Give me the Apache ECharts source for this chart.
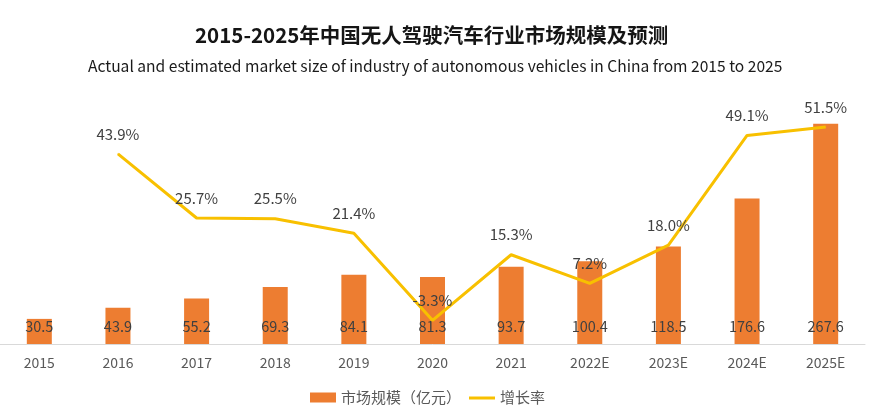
<!DOCTYPE html>
<html>
<head>
<meta charset="utf-8">
<script src="https://cdn.jsdelivr.net/npm/echarts@6/dist/echarts.min.js"></script>
<style>
html,body{margin:0;padding:0;background:#fff;}
#c{width:886px;height:416px;}
</style>
</head>
<body>
<div id="c"></div>
<script>
var categories = ['2015','2016','2017','2018','2019','2020','2021','2022E','2023E','2024E','2025E'];
var marketSize = [30.5, 43.9, 55.2, 69.3, 84.1, 81.3, 93.7, 100.4, 118.5, 176.6, 267.6];
var growthRate = [null, 43.9, 25.7, 25.5, 21.4, -3.3, 15.3, 7.2, 18.0, 49.1, 51.5];
var titleText = '2015-2025年中国无人驾驶汽车行业市场规模及预测';
var subtitleText = 'Actual and estimated market size of industry of autonomous vehicles in China from 2015 to 2025';
var barName = '市场规模（亿元）';
var lineName = '增长率';

var font = '"Noto Sans CJK SC", "Noto Sans", sans-serif';
var lineColor = '#F8C000';
var chart = echarts.init(document.getElementById('c'));
chart.setOption({
  backgroundColor: '#ffffff',
  animation: false,
  title: [
    {
      text: titleText,
      left: 190,
      top: 20,
      textStyle: {fontFamily: font, fontSize: 20.5, fontWeight: 'bold', color: '#151515'}
    },
    {
      text: subtitleText,
      left: 83,
      top: 53,
      textStyle: {fontFamily: font, fontSize: 15.6, fontWeight: 'normal', color: '#1a1a1a'}
    }
  ],
  legend: {
    bottom: 6,
    left: 305,
    itemWidth: 26,
    itemHeight: 10,
    itemGap: 8,
    textStyle: {fontFamily: font, fontSize: 15, color: '#595959'},
    data: [
      {name: barName, icon: 'rect'},
      {name: lineName, icon: 'path://M0,0 M0,4 L26,4 L26,7 L0,7 Z M26,10', itemStyle: {color: lineColor}}
    ]
  },
  grid: {left: -10, right: 21, top: 97, bottom: 72, containLabel: false},
  xAxis: {
    type: 'category',
    data: categories,
    axisLine: {lineStyle: {color: '#d9d9d9', width: 1}},
    axisTick: {show: false},
    axisLabel: {fontFamily: font, fontSize: 14, color: '#595959', margin: 12}
  },
  yAxis: [
    {type: 'value', min: 0, max: 300, show: false, splitLine: {show: false}},
    {type: 'value', min: -10, max: 60, show: false, splitLine: {show: false}}
  ],
  series: [
    {
      name: barName,
      type: 'bar',
      data: marketSize,
      barWidth: 25,
      itemStyle: {color: '#ED7D31'},
      label: {
        show: true,
        position: 'insideBottom',
        distance: 10,
        fontFamily: font,
        fontSize: 14.5,
        color: '#404040',
        formatter: function (p) { return p.value.toFixed(1); }
      },
      z: 2
    },
    {
      name: lineName,
      type: 'line',
      yAxisIndex: 1,
      data: growthRate,
      symbol: 'circle',
      symbolSize: 1,
      showSymbol: true,
      lineStyle: {color: lineColor, width: 3},
      itemStyle: {color: lineColor},
      label: {
        show: true,
        position: 'top',
        distance: 12,
        fontFamily: font,
        fontSize: 15,
        color: '#404040',
        formatter: function (p) { return p.value.toFixed(1) + '%'; }
      },
      z: 3
    }
  ]
});
</script>
</body>
</html>
